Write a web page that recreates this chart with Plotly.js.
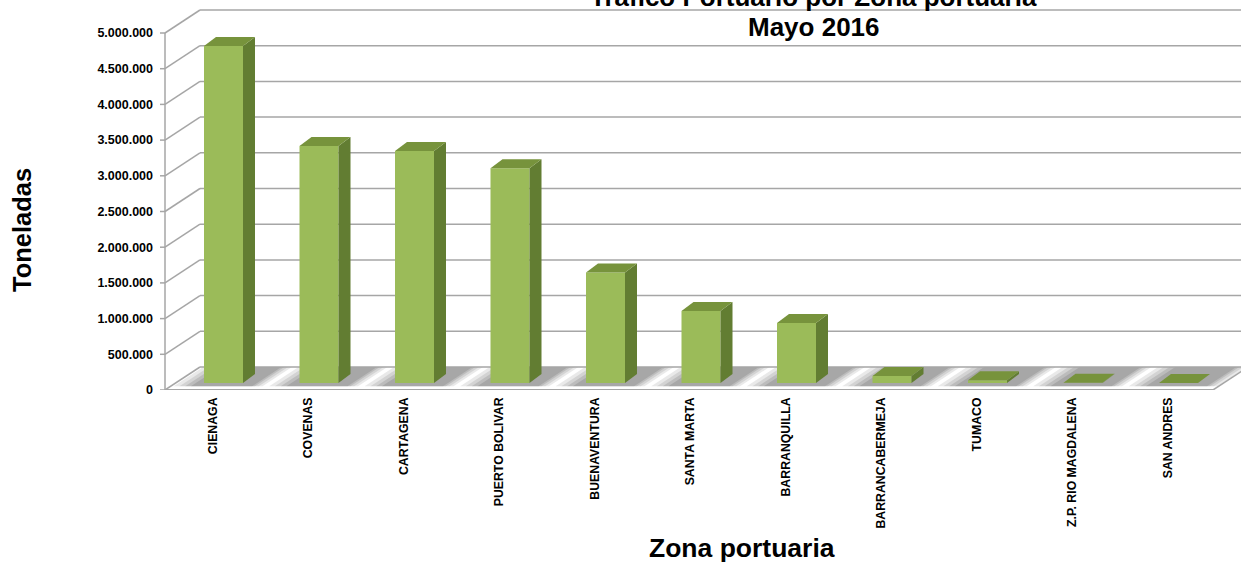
<!DOCTYPE html>
<html>
<head>
<meta charset="utf-8">
<script src="https://cdn.plot.ly/plotly-3.0.1.min.js"></script>
<style>html,body{margin:0;padding:0;background:#fff;}#chart{width:1241px;height:565px;}</style>
</head>
<body>
<div id="chart"></div>
<script>
// ---- data ----
const categories = ['CIENAGA','COVENAS','CARTAGENA','PUERTO BOLIVAR','BUENAVENTURA','SANTA MARTA','BARRANQUILLA','BARRANCABERMEJA','TUMACO','Z.P. RIO MAGDALENA','SAN ANDRES'];
const toneladas = [4720000, 3320000, 3250000, 3010000, 1550000, 1010000, 840000, 98000, 40000, 6000, 3000];
const yTicks = [0, 500000, 1000000, 1500000, 2000000, 2500000, 3000000, 3500000, 4000000, 4500000, 5000000];
const titleLine1 = 'Tráfico Portuario por Zona portuaria';
const titleLine2 = 'Mayo 2016';
const xTitle = 'Zona portuaria';
const yTitle = 'Toneladas';

// ---- pseudo-3D geometry (in axis units) ----
const PX_CAT = 95.5;            // px per category
const PX_VAL = 71.4 / 1e6;      // px per tonne
const DX = 35 / PX_CAT;         // full depth shift, x
const DY = 23 / PX_VAL;         // full depth shift, y
const F_BAR = 0.3;              // depth of bar front face
const BW = 39 / PX_CAT;         // bar front width
const BDX = 12 / PX_CAT;        // bar depth x
const BDY = 9 / PX_VAL;         // bar depth y
const XA = (165 - 213) / PX_CAT; // front axis position
const XR = [(160 - 213) / PX_CAT, (1241 - 213) / PX_CAT];
const YR = [0, 390 / PX_VAL];
const XFLOOR_END = (1213 - 213) / PX_CAT;

function P(x, f, v) { return [x + f * DX, v + f * DY]; }
function path(pts) { return 'M ' + pts.map(p => p[0] + ',' + p[1]).join(' L ') + ' Z'; }

const shapes = [];
const GRID = '#A6A6A6';

// floor shadows
categories.forEach((c, i) => {
  const layers = [[-0.47, 0.46, 0.14], [-0.41, 0.42, 0.16], [-0.35, 0.38, 0.2], [-0.29, 0.35, 0.24]];
  layers.forEach(l => {
    shapes.push({type: 'path', xref: 'x', yref: 'y', layer: 'below',
      path: path([P(i + l[0], 0.16, 0), P(i + l[1], 0.16, 0), P(i + l[1], 1, 0), P(i + l[0], 1, 0)]),
      fillcolor: 'rgba(100,100,100,' + l[2] + ')', line: {width: 0}});
  });
});

// back wall gridlines and side-wall diagonals
yTicks.forEach(v => {
  const b = P(XA, 1, v);
  shapes.push({type: 'line', xref: 'x', yref: 'y', layer: 'below', x0: b[0], y0: b[1], x1: XR[1] + 1, y1: b[1], line: {color: GRID, width: 1.5}});
  shapes.push({type: 'line', xref: 'x', yref: 'y', layer: 'below', x0: XA, y0: v, x1: b[0], y1: b[1], line: {color: GRID, width: 1.5}});
  shapes.push({type: 'line', xref: 'x', yref: 'y', layer: 'below', x0: XA - 5 / PX_CAT, y0: v, x1: XA, y1: v, line: {color: GRID, width: 1.5}});
});
// front axis line
shapes.push({type: 'line', xref: 'x', yref: 'y', layer: 'below', x0: XA, y0: 0, x1: XA, y1: yTicks[yTicks.length - 1], line: {color: GRID, width: 1.5}});
// floor front edge + right edge
shapes.push({type: 'line', xref: 'x', yref: 'y', layer: 'below', x0: XA, y0: 0, x1: XFLOOR_END, y1: 0, line: {color: GRID, width: 2}});
const fr = P(XFLOOR_END, 1, 0);
shapes.push({type: 'line', xref: 'x', yref: 'y', layer: 'below', x0: XFLOOR_END, y0: 0, x1: fr[0], y1: fr[1], line: {color: GRID, width: 1.5}});

// bar top & side faces
const base = F_BAR * DY;
const barX = categories.map((c, i) => i + F_BAR * DX);
toneladas.forEach((val, i) => {
  const xl = barX[i] - BW / 2, xr = barX[i] + BW / 2, t = base + val;
  shapes.push({type: 'path', xref: 'x', yref: 'y', layer: 'above',
    path: path([[xr, base], [xr, t], [xr + BDX, t + BDY], [xr + BDX, base + BDY]]),
    fillcolor: '#627D32', line: {width: 0}});
  shapes.push({type: 'path', xref: 'x', yref: 'y', layer: 'above',
    path: path([[xl, t], [xr, t], [xr + BDX, t + BDY], [xl + BDX, t + BDY]]),
    fillcolor: '#77933C', line: {width: 0}});
});

const trace = {
  type: 'bar',
  x: barX,
  y: toneladas,
  base: toneladas.map(() => base),
  width: BW,
  marker: {color: '#9BBB59', line: {width: 0}},
  hoverinfo: 'skip'
};

const FONT = 'Liberation Sans, Arial, sans-serif';
const layout = {
  width: 1241, height: 565, autosize: false,
  margin: {l: 160, r: 0, t: 0, b: 175, pad: 0},
  paper_bgcolor: '#fff', plot_bgcolor: 'rgba(0,0,0,0)',
  separators: ',.',
  showlegend: false,
  xaxis: {
    range: XR, tickmode: 'array',
    tickvals: categories.map((c, i) => i), ticktext: categories,
    tickangle: -90, ticks: '', showgrid: false, zeroline: false, showline: false,
    tickfont: {family: FONT, size: 12.3, color: '#000', weight: 700},
    ticklabelstandoff: 4, fixedrange: true
  },
  yaxis: {
    range: YR, tickmode: 'array', tickvals: yTicks,
    ticktext: yTicks.map(v => v === 0 ? '0' : v.toLocaleString('de-DE')),
    ticks: '', showgrid: false, zeroline: false, showline: false,
    tickfont: {family: FONT, size: 12.5, color: '#000', weight: 700},
    ticklabelstandoff: 6, fixedrange: true
  },
  shapes: shapes,
  annotations: [
    {text: titleLine1, xref: 'paper', yref: 'paper', x: (813 - 160) / 1081, y: (390 + 3) / 390, xanchor: 'center', yanchor: 'middle', showarrow: false, font: {family: FONT, size: 26, color: '#000', weight: 700}},
    {text: titleLine2, xref: 'paper', yref: 'paper', x: (814 - 160) / 1081, y: (390 - 27) / 390, xanchor: 'center', yanchor: 'middle', showarrow: false, font: {family: FONT, size: 26, color: '#000', weight: 700}},
    {text: xTitle, xref: 'paper', yref: 'paper', x: (742 - 160) / 1081, y: (390 - 548) / 390, xanchor: 'center', yanchor: 'middle', showarrow: false, font: {family: FONT, size: 26.5, color: '#000', weight: 700}},
    {text: yTitle, xref: 'paper', yref: 'paper', x: (22 - 160) / 1081, y: (390 - 230) / 390, xanchor: 'center', yanchor: 'middle', textangle: -90, showarrow: false, font: {family: FONT, size: 25.5, color: '#000', weight: 700}}
  ]
};

Plotly.newPlot('chart', [trace], layout, {displayModeBar: false, staticPlot: true});
</script>
</body>
</html>
